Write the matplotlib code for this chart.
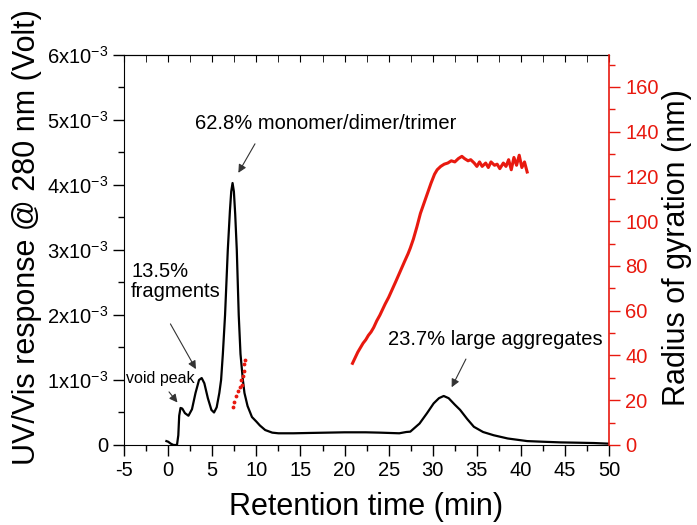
import numpy as np
import matplotlib
matplotlib.use("Agg")
import matplotlib.pyplot as plt
from matplotlib.ticker import MultipleLocator, FuncFormatter

plt.rcParams["font.family"] = ["Liberation Sans", "DejaVu Sans"]
plt.rcParams["mathtext.default"] = "regular"
plt.rcParams["axes.unicode_minus"] = False

# UV/Vis trace (time in min, response in 1e-3 V)
uv_time = [-0.2, 0.0, 0.3, 0.6, 1.0, 1.15, 1.25, 1.4, 1.6, 1.9, 2.3, 2.7, 3.1, 3.5,
           3.8, 4.1, 4.5, 4.9, 5.2, 5.5, 5.8, 6.0, 6.2, 6.45, 6.76, 7.0, 7.15, 7.3,
           7.45, 7.6, 7.78, 8.0, 8.2, 8.47, 8.65, 9.0, 9.5, 10.0, 10.4, 11.0, 11.8,
           12.5, 14.2, 16.0, 18.0, 20.0, 22.4, 24.0, 26.2, 27.0, 27.45, 28.5, 29.35,
           30.1, 30.7, 31.24, 31.8, 32.5, 33.1, 33.9, 34.66, 35.7, 36.9, 38.5, 40.7,
           42.5, 44.5, 46.5, 48.3, 50.0]
uv_resp = [0.06, 0.05, 0.02, 0.0, 0.0, 0.15, 0.45, 0.57, 0.56, 0.49, 0.45, 0.55, 0.8, 1.0,
           1.03, 0.95, 0.72, 0.54, 0.50, 0.58, 0.8, 1.0, 1.4, 2.0, 3.0, 3.6, 3.9, 4.03,
           3.9, 3.55, 3.0, 2.0, 1.4, 1.0, 0.8, 0.6, 0.43, 0.36, 0.3, 0.23, 0.19,
           0.18, 0.18, 0.185, 0.19, 0.195, 0.195, 0.19, 0.18, 0.2, 0.205, 0.33, 0.49,
           0.64, 0.72, 0.754, 0.72, 0.62, 0.54, 0.4, 0.28, 0.2, 0.15, 0.1, 0.06,
           0.05, 0.04, 0.035, 0.03, 0.02]

# Radius of gyration under the main peak (min, nm)
rg_peak_time = [7.35, 7.5, 7.7, 7.9, 8.1, 8.25, 8.35, 8.45, 8.55, 8.65, 8.75]
rg_peak_val = [17, 19, 22, 24, 26, 29, 27, 31, 33, 36, 38]

# Radius of gyration across the aggregate region (min, nm)
rg_agg_time = [20.9, 21.2, 21.5, 21.8, 22.1, 22.4, 22.7, 23.0, 23.3, 23.65, 24.0, 24.3,
               24.6, 25.0, 25.4, 25.8, 26.3, 26.8, 27.2, 27.45, 27.8, 28.2, 28.6, 29.0,
               29.4, 29.8, 30.2, 30.5, 30.9, 31.3, 31.7, 32.1, 32.5, 32.9, 33.3, 33.6,
               34.0, 34.3, 34.7, 35.0, 35.3, 35.6, 36.0, 36.3, 36.6, 37.0, 37.3, 37.6,
               38.0, 38.3, 38.6, 38.9, 39.2, 39.5, 39.8, 40.1, 40.4, 40.7]
rg_agg_val = [36.5, 39, 41.5, 43.5, 45.5, 47, 49, 50.5, 52.5, 55.5, 58, 60.5,
              63, 66, 69.5, 73, 77.5, 82, 85.5, 88, 92, 97.5, 103.5, 108,
              112.5, 117, 121, 123, 124.5, 125.5, 126, 127, 126.5, 128, 129, 128,
              127, 127.5, 126, 124.5, 126.5, 124.5, 126, 124, 126.5, 125, 125.5, 123.5,
              126, 124.5, 127.5, 123, 128.5, 125, 129.5, 124, 126.5, 122]

fig = plt.figure(figsize=(6.97, 5.25), dpi=100)
ax = fig.add_axes([0.178, 0.1524, 0.696, 0.7429])

ax.plot(uv_time, np.array(uv_resp) * 1e-3, color="black", lw=1.6, zorder=3)
ax.set_xlim(-5, 50)
ax.set_ylim(0, 6e-3)
ax.xaxis.set_major_locator(MultipleLocator(5))
ax.xaxis.set_minor_locator(MultipleLocator(2.5))
ax.yaxis.set_major_locator(MultipleLocator(1e-3))
ax.yaxis.set_minor_locator(MultipleLocator(0.5e-3))


def sci_label(v, pos):
    n = int(round(v * 1e3))
    return "0" if n == 0 else f"{n}x10$^{{-3}}$"


ax.yaxis.set_major_formatter(FuncFormatter(sci_label))
ax.tick_params(which="major", direction="out", length=8, width=1, labelsize=14.5)
ax.tick_params(which="minor", direction="out", length=4.5, width=1)
ax.spines["right"].set_visible(False)

top = ax.secondary_xaxis("top")
top.xaxis.set_major_locator(MultipleLocator(5))
top.xaxis.set_minor_locator(MultipleLocator(2.5))
top.tick_params(which="both", direction="in", length=5, labeltop=False)

ax.set_xlabel("Retention time (min)", fontsize=22)
ax.xaxis.set_label_coords(0.499, -0.12)
ax.set_ylabel("UV/Vis response @ 280 nm (Volt)", fontsize=22)
ax.yaxis.set_label_coords(-0.17, 0.533)

ax2 = ax.twinx()
red = "#e8190f"
ax2.plot(rg_peak_time, rg_peak_val, ".", color=red, ms=3.5, zorder=2)
ax2.plot(rg_agg_time, rg_agg_val, color=red, lw=2.2, zorder=2)
ax2.set_ylim(0, 174.3)
ax2.yaxis.set_major_locator(MultipleLocator(20))
ax2.yaxis.set_minor_locator(MultipleLocator(10))
for side in ["top", "left", "bottom"]:
    ax2.spines[side].set_visible(False)
ax2.spines["right"].set_color(red)
ax2.spines["right"].set_linewidth(1.2)
ax2.tick_params(which="major", direction="out", length=8, width=1, colors=red, labelsize=14.5)
ax2.tick_params(which="minor", direction="out", length=4.5, width=1, colors=red)
ax2.set_ylabel("Radius of gyration (nm)", fontsize=22)
ax2.yaxis.set_label_coords(1.109, 0.505)

arrow = dict(arrowstyle="-|>", color="#333333", lw=0.8, mutation_scale=12)
ax.text(3.0, 4.94e-3, "62.8% monomer/dimer/trimer", fontsize=14.5, ha="left", va="center")
ax.annotate("", xy=(7.8, 4.15e-3), xytext=(10.0, 4.67e-3), arrowprops=arrow)
ax.text(-4.2, 2.52e-3, "13.5%\nfragments", fontsize=14.5, ha="left", va="center",
        linespacing=1.05)
ax.annotate("", xy=(3.3, 1.13e-3), xytext=(0.1, 1.9e-3), arrowprops=arrow)
ax.text(-4.8, 1.03e-3, "void peak", fontsize=11.5, ha="left", va="center")
ax.annotate("", xy=(1.25, 0.62e-3), xytext=(-0.1, 0.85e-3), arrowprops=arrow)
ax.text(24.97, 1.62e-3, "23.7% large aggregates", fontsize=14.5, ha="left", va="center")
ax.annotate("", xy=(32.0, 0.85e-3), xytext=(33.9, 1.36e-3), arrowprops=arrow)

fig.savefig("out.png", dpi=100)
